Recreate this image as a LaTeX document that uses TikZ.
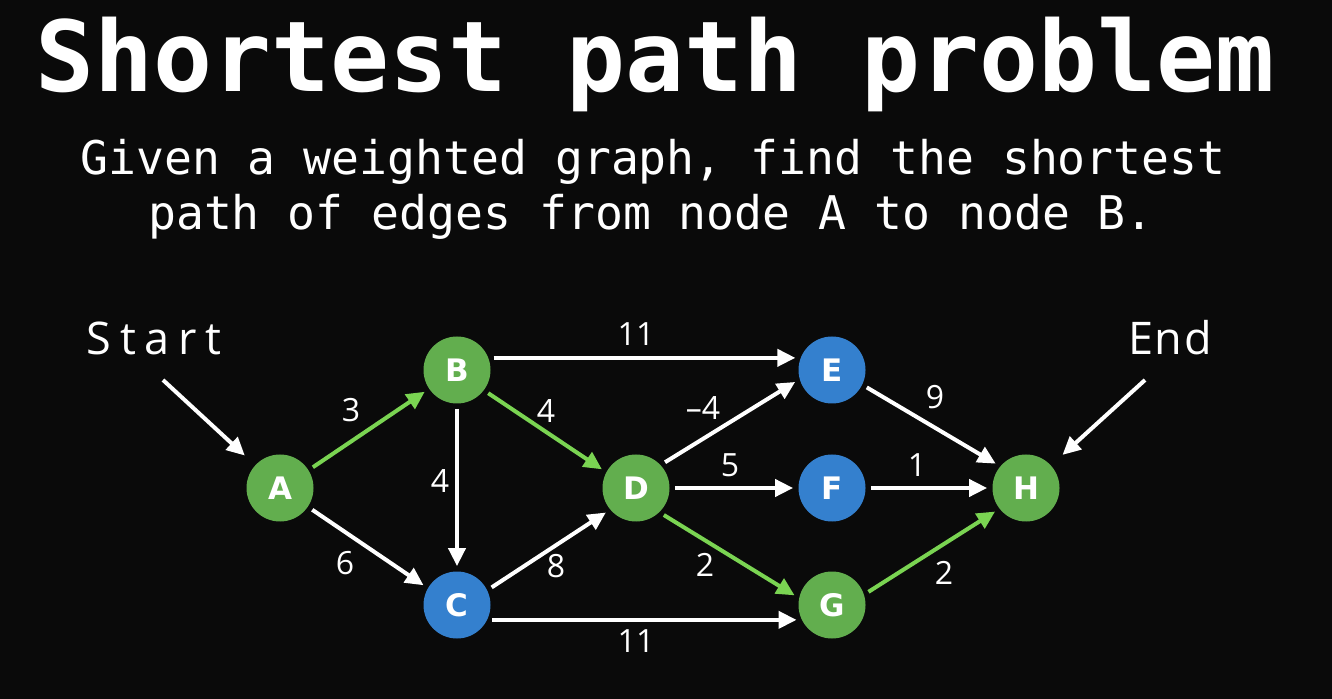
\documentclass[tikz,border=0pt]{standalone}
\usepackage{fontspec}
\usetikzlibrary{arrows.meta}
\newfontfamily\titlefont{DejaVu Sans Mono}
\newfontfamily\letterfont{DejaVu Sans}
\newfontfamily\weightfont{Open Sans}
\newfontfamily\starttagfont{Open Sans}[LetterSpace=19]
\newfontfamily\endtagfont{Open Sans}[LetterSpace=4]
\definecolor{bgdark}{RGB}{10,10,10}
\definecolor{nodegreen}{RGB}{98,174,78}
\definecolor{nodeblue}{RGB}{52,128,206}
\definecolor{edgegreen}{RGB}{122,212,82}
\begin{document}
\begin{tikzpicture}[x=0.5pt,y=-0.5pt,
  vertex/.style={circle, minimum size=33.5pt, inner sep=0pt, text=white,
    font=\letterfont\bfseries\fontsize{15.5}{15.5}\selectfont},
  gnode/.style={vertex, fill=nodegreen},
  bnode/.style={vertex, fill=nodeblue},
  edge/.style={draw=white, line width=2pt, -{Triangle[length=9pt,width=8.5pt]},
    shorten >=2.5pt, shorten <=2.5pt},
  hot/.style={edge, draw=edgegreen},
  weight/.style={text=white, inner sep=0pt, font=\weightfont\fontsize{16}{16}\selectfont},
  tag/.style={text=white, inner sep=0pt, anchor=base},
]
\fill[bgdark] (0,0) rectangle (1332,699);
\useasboundingbox (0,0) rectangle (1332,699);

% heading
\node[text=white, anchor=base, inner sep=0pt,
  font=\titlefont\bfseries\fontsize{49}{49}\selectfont] (title) at (655,92) {Shortest path problem};
\node[text=white, anchor=base, inner sep=0pt,
  font=\titlefont\fontsize{23.2}{23.2}\selectfont] (sub1) at (653,175) {Given a weighted graph, find the shortest};
\node[text=white, anchor=base, inner sep=0pt,
  font=\titlefont\fontsize{23.2}{23.2}\selectfont] (sub2) at (651,230) {path of edges from node A to node B.};

% vertices
\node[gnode] (A) at (280,488) {A};
\node[gnode] (B) at (457,370) {B};
\node[bnode] (C) at (457,605) {C};
\node[gnode] (D) at (636,488) {D};
\node[bnode] (E) at (832,370) {E};
\node[bnode] (F) at (832,488) {F};
\node[gnode] (G) at (832,605) {G};
\node[gnode] (H) at (1026,488) {H};

% edges
\draw[hot]  (A.32)  -- (B.214);
\draw[edge] (A.-34) -- (C.150);
\draw[edge] (B.21)  -- (E.159);
\draw[hot]  (B.-37) -- (D.152);
\draw[edge] (B) -- (C);
\draw[edge] (C.26)  -- (D.220);
\draw[edge] (C.-26) -- (G.-154);
\draw[edge] (D.43)  -- (E.196);
\draw[edge] (D) -- (F);
\draw[hot]  (D.-46) -- (G.168);
\draw[edge] (E.-26) -- (H.140);
\draw[edge] (F) -- (H);
\draw[hot]  (G.18)  -- (H.218);

% weights
\node[weight] (wAB) at (351,410) {3};
\node[weight] (wAC) at (345,563) {6};
\node[weight] (wBE) at (636,334) {11};
\node[weight] (wBD) at (546,411) {4};
\node[weight] (wBC) at (440,481) {4};
\node[weight] (wCD) at (556,566) {8};
\node[weight] (wCG) at (636,641) {11};
\node[weight] (wDE) at (703,408) {–4};
\node[weight] (wDF) at (730,465) {5};
\node[weight] (wDG) at (705,565) {2};
\node[weight] (wEH) at (935,397) {9};
\node[weight] (wFH) at (917,465) {1};
\node[weight] (wGH) at (944,573) {2};

% start and end markers
\node[tag, font=\starttagfont\fontsize{22.5}{22.5}\selectfont] (start) at (154,355) {Start};
\node[tag, font=\endtagfont\fontsize{22.5}{22.5}\selectfont] (end) at (1170,355) {End};
\coordinate (starttail) at (163,380);
\coordinate (endtail) at (1145,380);
\draw[edge, shorten <=0pt, shorten >=7pt] (starttail) -- (A);
\draw[edge, shorten <=0pt, shorten >=7.7pt] (endtail) -- (H);
\end{tikzpicture}
\end{document}
